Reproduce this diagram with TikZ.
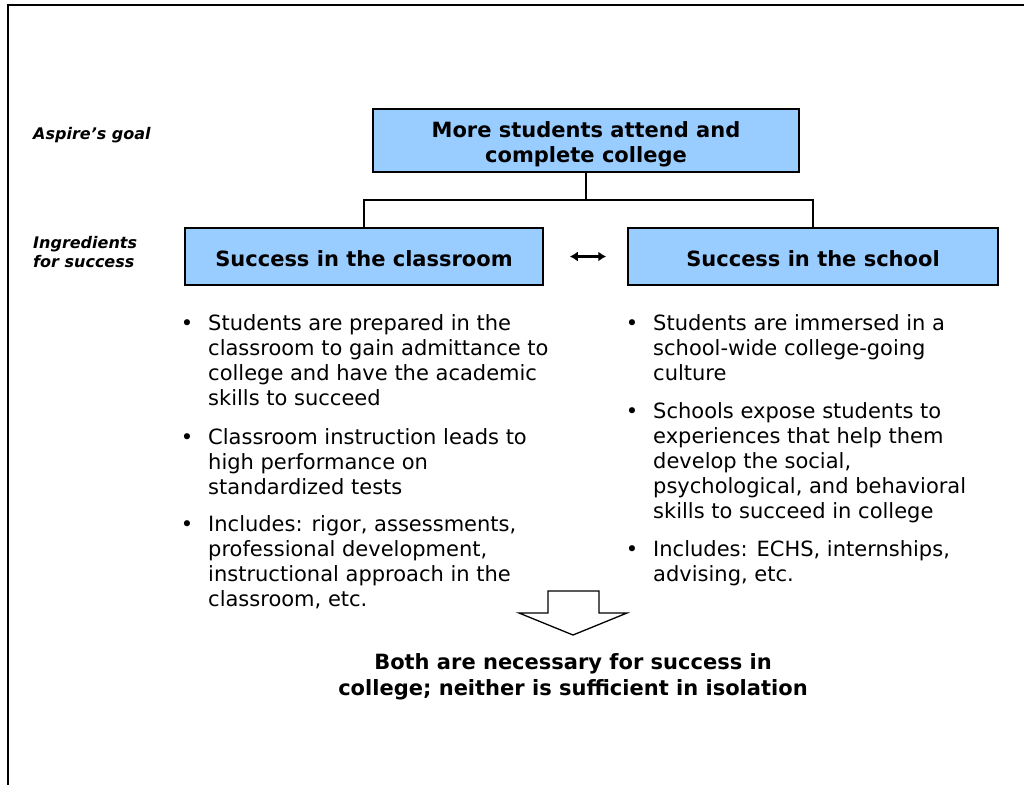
\documentclass[tikz,border=0pt]{standalone}
\usepackage{fontspec}
\setmainfont{DejaVu Sans}
\usetikzlibrary{arrows.meta,calc}
\definecolor{boxblue}{RGB}{153,204,255}
\tikzset{
  titlebox/.style={draw=black, line width=1.5pt, fill=boxblue, inner sep=0pt, align=center,
    font={\fontsize{21}{25}\selectfont\bfseries}},
  sidelabel/.style={inner sep=0pt, align=left, font={\fontsize{16}{19}\selectfont\bfseries\itshape}},
  bullettext/.style={inner sep=0pt, align=left, anchor=north west, font={\fontsize{21}{25}\selectfont}},
  conn/.style={line width=1.5pt, black},
  bothtext/.style={inner sep=0pt, align=center, font={\fontsize{21}{26}\selectfont\bfseries}},
}
\newcommand{\bul}{\llap{•\hspace{15pt}}}
\begin{document}
\begin{tikzpicture}[x=1pt,y=-1pt]
\useasboundingbox (0,0) rectangle (1024,784);
\fill[white] (0,0) rectangle (1024,784);
% frame
\draw[line width=1.8pt] (8.3,790) -- (8.3,5) -- (1030,5);

% labels
\node[sidelabel, anchor=base west] (goal) at (33,139) {Aspire’s goal};
\node[sidelabel, anchor=north west] (ingr) at (33,236) {Ingredients\\for success};

% boxes
\node[titlebox, minimum width=426pt, minimum height=63pt] (top) at (586,140.5) {\rule{0pt}{24pt}More students attend and\\complete college};
\node[titlebox, minimum width=358pt, minimum height=57pt] (left) at (364,256.5) {\rule{0pt}{20pt}Success in the classroom};
\node[titlebox, minimum width=370pt, minimum height=57pt] (right) at (813,256.5) {\rule{0pt}{20pt}Success in the school};

% connectors
\coordinate (mid) at (586,200);
\draw[conn] (top.south) -- (mid);
\draw[conn] (mid) -| (left.north);
\draw[conn] (mid) -| (right.north);
\draw[line width=2.5pt, {Latex[length=8pt,width=10pt]}-{Latex[length=8pt,width=10pt]}, shorten <=26pt, shorten >=21pt] (left.east) -- (right.west);

% left bullets
\node[bullettext] (l1) at (208,314) {\bul Students are prepared in the\\classroom to gain admittance to\\college and have the academic\\skills to succeed};
\node[bullettext] (l2) at (208,428.5) {\bul Classroom instruction leads to\\high performance on\\standardized tests};
\node[bullettext] (l3) at (208,515) {\bul Includes: rigor, assessments,\\professional development,\\instructional approach in the\\classroom, etc.};

% right bullets
\node[bullettext] (r1) at (653,314) {\bul Students are immersed in a\\school-wide college-going\\culture};
\node[bullettext] (r2) at (653,402) {\bul Schools expose students to\\experiences that help them\\develop the social,\\psychological, and behavioral\\skills to succeed in college};
\node[bullettext] (r3) at (653,540) {\bul Includes: ECHS, internships,\\advising, etc.};

% block arrow
\draw[line width=1.3pt, fill=white, line join=miter]
  (548,591) -- (599,591) -- (599,613) -- (627,613) -- (573,635) -- (519,613) -- (548,613) -- cycle;

% conclusion
\node[bothtext] (both) at (573,677) {Both are necessary for success in\\college; neither is sufficient in isolation};
\end{tikzpicture}
\end{document}
